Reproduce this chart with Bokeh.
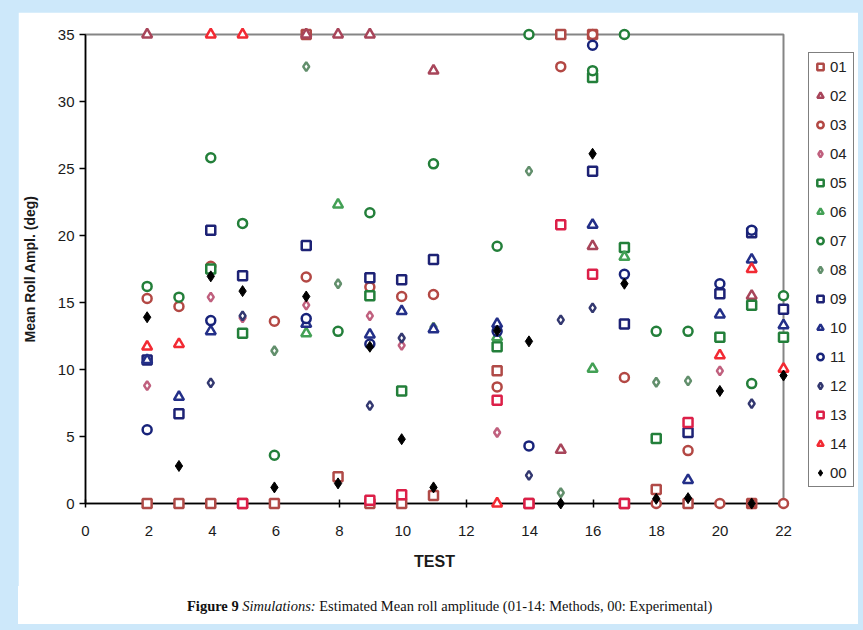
from bokeh.plotting import figure
from bokeh.models import ColumnDataSource, Legend, LegendItem, FixedTicker, Div
from bokeh.layouts import column
from bokeh.embed import file_html
from bokeh.resources import INLINE

N = float("nan")

tests = [2, 3, 4, 5, 6, 7, 8, 9, 10, 11, 13, 14, 15, 16, 17, 18, 19, 20, 21, 22]

s01 = [0, 0, 0, 0, 0, 35, 2.0, 0, 0, 0.6, 9.9, 0, 35, 35, 0, 1.05, 0, N, 0, N]
s02 = [35, N, N, N, N, 35, 35, 35, N, 32.3, N, N, 4.0, 19.2, N, N, N, N, 15.5, N]
s03 = [15.3, 14.7, 17.7, N, 13.6, 16.9, N, 16.15, 15.45, 15.6, 8.7, N, 32.6, 35, 9.4, 0, 3.95, 0, 0, 0]
s04 = [8.8, N, 15.4, 13.85, N, 14.8, N, 14.0, 11.8, N, 5.3, N, N, N, N, N, N, 9.9, N, N]
s05 = [N, N, 17.5, 12.7, N, N, N, 15.5, 8.4, N, 11.7, N, N, 31.8, 19.1, 4.85, N, 12.4, 14.8, 12.4]
s06 = [N, N, N, N, N, 12.7, 22.3, N, N, N, 12.4, N, N, 10.05, 18.4, N, N, N, N, N]
s07 = [16.2, 15.4, 25.8, 20.9, 3.6, N, 12.85, 21.7, N, 25.35, 19.2, 35, N, 32.3, 35, 12.85, 12.85, N, 8.95, 15.5]
s08 = [N, N, N, N, 11.4, 32.6, 16.4, N, N, 13.15, N, 24.8, 0.8, N, N, 9.05, 9.15, N, N, N]
s09 = [10.7, 6.7, 20.4, 17.0, N, 19.25, N, 16.85, 16.7, 18.2, N, N, N, 24.8, 13.4, N, 5.3, 15.65, 20.2, 14.5]
s10 = [10.7, 7.95, 12.85, N, N, 13.4, N, 12.6, 14.35, 13.0, 13.4, N, N, 20.8, N, N, 1.75, 14.1, 18.2, 13.3]
s11 = [5.5, N, 13.65, N, N, 13.8, N, 11.9, N, N, 12.85, 4.3, N, 34.2, 17.1, N, N, 16.4, 20.4, N]
s12 = [N, N, 9.0, 14.0, N, N, N, 7.3, 12.35, N, N, 2.1, 13.7, 14.6, N, N, N, N, 7.45, N]
s13 = [N, N, N, 0, N, N, N, 0.25, 0.65, N, 7.7, 0, 20.8, 17.1, 0, N, 6.05, N, N, N]
s14 = [11.7, 11.9, 35, 35, N, N, N, N, N, N, 0, N, N, N, N, N, N, 11.05, 17.5, 10.05]
s00 = [13.9, 2.8, 16.95, 15.85, 1.2, 15.45, 1.5, 11.7, 4.8, 1.2, 12.9, 12.1, 0, 26.1, 16.4, 0.35, 0.4, 8.4, 0, 9.55]

labels = ["01", "02", "03", "04", "05", "06", "07", "08", "09", "10", "11", "12", "13", "14", "00"]
x_ticks = [0, 2, 4, 6, 8, 10, 12, 14, 16, 18, 20, 22]
y_ticks = [0, 5, 10, 15, 20, 25, 30, 35]

series = [s01, s02, s03, s04, s05, s06, s07, s08, s09, s10, s11, s12, s13, s14, s00]
markers = ["square", "triangle", "circle", "diamond"] * 3 + ["square", "triangle", "diamond"]
colors = ["#b04a47", "#a8455a", "#b34844", "#c0607e",
          "#237f3a", "#43a055", "#237f3a", "#628f6c",
          "#1d2275", "#232f88", "#18237a", "#333870",
          "#dc1f48", "#f22a33", "#000000"]

FONT = "Liberation Sans"

# ---------- base figure: axes, frame, labels ----------
p = figure(width=840, height=574, output_backend="svg", toolbar_location=None,
           x_range=(x_ticks[0], x_ticks[-1]), y_range=(y_ticks[0], y_ticks[-1]),
           min_border_left=65, min_border_right=75, min_border_top=22, min_border_bottom=83,
           background_fill_color="white", border_fill_color="white")
p.outline_line_color = "#858585"
p.outline_line_width = 2
p.grid.visible = False
p.margin = (0, 0, 0, 0)

for ax in (p.xaxis[0], p.yaxis[0]):
    ax.axis_line_color = "black"
    ax.axis_line_width = 1.5
    ax.major_tick_line_color = "black"
    ax.major_tick_line_width = 1.5
    ax.minor_tick_line_color = None
    ax.major_label_text_font = FONT
    ax.major_label_text_font_size = "15px"
    ax.major_label_text_color = "#1a1a1a"
    ax.axis_label_text_font = FONT
    ax.axis_label_text_font_style = "bold"
    ax.axis_label_text_color = "#1a1a1a"

p.xaxis.ticker = FixedTicker(ticks=x_ticks)
p.xaxis.major_tick_in = 4
p.xaxis.major_tick_out = 4
p.xaxis.major_label_standoff = 18
p.xaxis.axis_label = "TEST"
p.xaxis.axis_label_text_font_size = "16px"
p.xaxis.axis_label_standoff = 14

p.yaxis.ticker = FixedTicker(ticks=y_ticks)
p.yaxis.major_tick_in = 0
p.yaxis.major_tick_out = 6
p.yaxis.major_label_standoff = 5
p.yaxis.axis_label = "Mean Roll Ampl. (deg)"
p.yaxis.axis_label_text_font_size = "14px"
p.yaxis.axis_label_standoff = 17

# ---------- overlay figure: markers and legend (same data scale, unclipped at edges) ----------
PXX = 700.0 / (x_ticks[-1] - x_ticks[0])   # px per x unit
PXY = 469.0 / (y_ticks[-1] - y_ticks[0])   # px per y unit
q = figure(width=775, height=485, output_backend="svg", toolbar_location=None,
           x_range=(x_ticks[0], x_ticks[0] + 775 / PXX),
           y_range=(y_ticks[0] - 8 / PXY, y_ticks[-1] + 8 / PXY),
           x_axis_location=None, y_axis_location=None,
           min_border=0, min_border_left=0, min_border_right=0, min_border_top=0, min_border_bottom=0,
           background_fill_alpha=0, border_fill_alpha=0,
           styles={"position": "absolute", "left": "83px", "top": "26px"})
q.outline_line_color = None
q.grid.visible = False

items = []
for lab, ys, mk, col in zip(labels, series, markers, colors):
    src = ColumnDataSource(dict(x=tests, y=ys))
    if lab == "00":
        r = q.scatter("x", "y", source=src, marker=mk, size=11, fill_color=col,
                      line_color=col, line_width=1)
    else:
        sz = 9 if mk != "triangle" else 10
        r = q.scatter("x", "y", source=src, marker=mk, size=sz, fill_color="white",
                      line_color=col, line_width=2.5)
    items.append(LegendItem(label=lab, renderers=[r]))

legend = Legend(items=items, location=(725, 24), orientation="vertical",
                border_line_color="black", border_line_width=1.5,
                background_fill_color="white", background_fill_alpha=1.0,
                label_text_font=FONT, label_text_font_size="15px", label_text_color="#222222",
                glyph_width=16, glyph_height=21, label_height=21, label_width=20,
                spacing=8, padding=3, margin=0, label_standoff=2)
q.add_layout(legend)

cap = Div(text='<span style="font-family:\'Liberation Serif\';font-size:14.5px;color:#111">'
               '<b>Figure 9</b> <i>Simulations:</i> Estimated Mean roll amplitude '
               '(01-14: Methods, 00: Experimental)</span>',
          width=840, height=38, margin=(0, 0, 0, 0),
          styles={"background-color": "white", "padding-left": "169px", "padding-top": "10px",
                  "box-sizing": "border-box"})

lay = column(p, cap, spacing=0, styles={"margin-left": "18px", "margin-top": "12px"})

html = file_html([lay, q], INLINE)
html = html.replace("</head>",
                    "<style>html,body{background:#cde8fa !important;margin:0;overflow:hidden;}</style></head>", 1)
open("out.html", "w").write(html)
